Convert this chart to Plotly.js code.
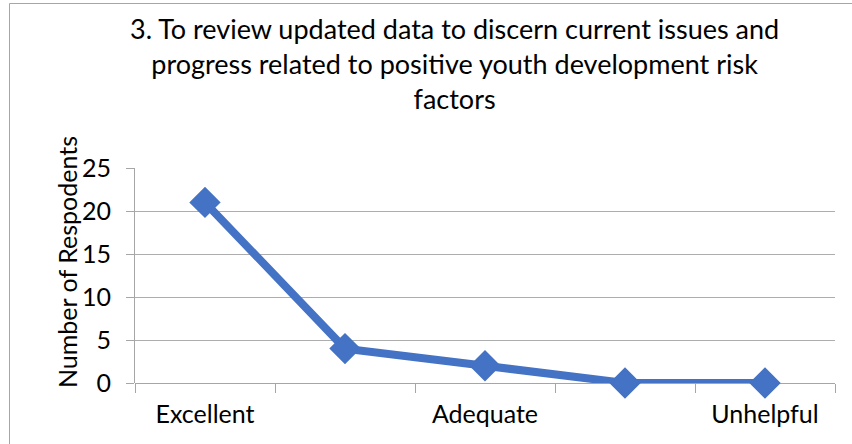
<!DOCTYPE html>
<html>
<head>
<meta charset="utf-8">
<script src="https://cdn.plot.ly/plotly-3.0.1.min.js"></script>
<style>html,body{margin:0;padding:0;background:#fff;}#chart{width:852px;height:444px;}</style>
</head>
<body>
<div id="chart"></div>
<script>
const categories = ["Excellent", "", "Adequate", "", "Unhelpful"];
const respondents = [21, 4, 2, 0, 0];
const yTicks = [0, 5, 10, 15, 20, 25];
const titleText = "3. To review updated data to discern current issues and<br>progress related to positive youth development risk<br>factors";
const yTitleText = "Number of Respodents";

const xIdx = categories.map((_, i) => i);
const FONT = "Lato, 'Open Sans', sans-serif";
const L = 135, W = 700, B = 383, H = 215;
const px = v => (v - L) / W;
const py = v => (B - v) / H;

const trace = {
  x: xIdx,
  y: respondents,
  type: "scatter",
  mode: "lines+markers",
  cliponaxis: false,
  line: { color: "#4472C4", width: 8 },
  marker: { symbol: "diamond", size: 22, color: "#4472C4", line: { color: "#4472C4", width: 2 } },
  hoverinfo: "skip"
};

const layout = {
  width: 852, height: 444,
  margin: { l: 135, r: 17, t: 168, b: 61 },
  paper_bgcolor: "#fff", plot_bgcolor: "#fff",
  showlegend: false,
  font: { family: FONT, color: "#000" },
  xaxis: {
    range: [-0.5, categories.length - 0.5],
    tickmode: "array",
    tickvals: xIdx,
    ticktext: categories,
    ticks: "",
    showgrid: false,
    zeroline: false,
    showline: false,
    tickfont: { family: FONT, size: 25, color: "#000" },
    ticklabelstandoff: 14,
    minor: { tickmode: "linear", tick0: -0.5, dtick: 1, ticks: "outside", ticklen: 9, tickcolor: "#A6A6A6", tickwidth: 1, showgrid: false },
    fixedrange: true
  },
  yaxis: {
    range: [0, 25],
    tickmode: "array",
    tickvals: yTicks,
    ticks: "outside",
    ticklen: 8,
    tickcolor: "#A6A6A6",
    showgrid: true,
    gridcolor: "#ADADAD",
    gridwidth: 1,
    zeroline: true,
    zerolinecolor: "#A6A6A6",
    zerolinewidth: 1,
    showline: true,
    linecolor: "#A6A6A6",
    linewidth: 1,
    tickfont: { family: FONT, size: 25, color: "#000" },
    ticklabelstandoff: 10,
    fixedrange: true
  },
  annotations: [
    {
      text: titleText,
      xref: "paper", yref: "paper",
      x: px(454), y: py(64),
      xanchor: "center", yanchor: "middle",
      showarrow: false, align: "center",
      font: { family: FONT, size: 27, color: "#000" }
    },
    {
      text: yTitleText,
      xref: "paper", yref: "paper",
      x: px(67), y: py(262),
      xanchor: "center", yanchor: "middle",
      textangle: -90, showarrow: false,
      font: { family: FONT, size: 25, color: "#000" }
    }
  ],
  shapes: [
    { type: "line", xref: "paper", yref: "paper", x0: px(9.5), x1: px(860), y0: py(3.5), y1: py(3.5), line: { color: "#A6A6A6", width: 1 } },
    { type: "line", xref: "paper", yref: "paper", x0: px(9.5), x1: px(9.5), y0: py(3.5), y1: py(450), line: { color: "#A6A6A6", width: 1 } }
  ]
};

Plotly.newPlot("chart", [trace], layout, { displayModeBar: false, staticPlot: true });
</script>
</body>
</html>
